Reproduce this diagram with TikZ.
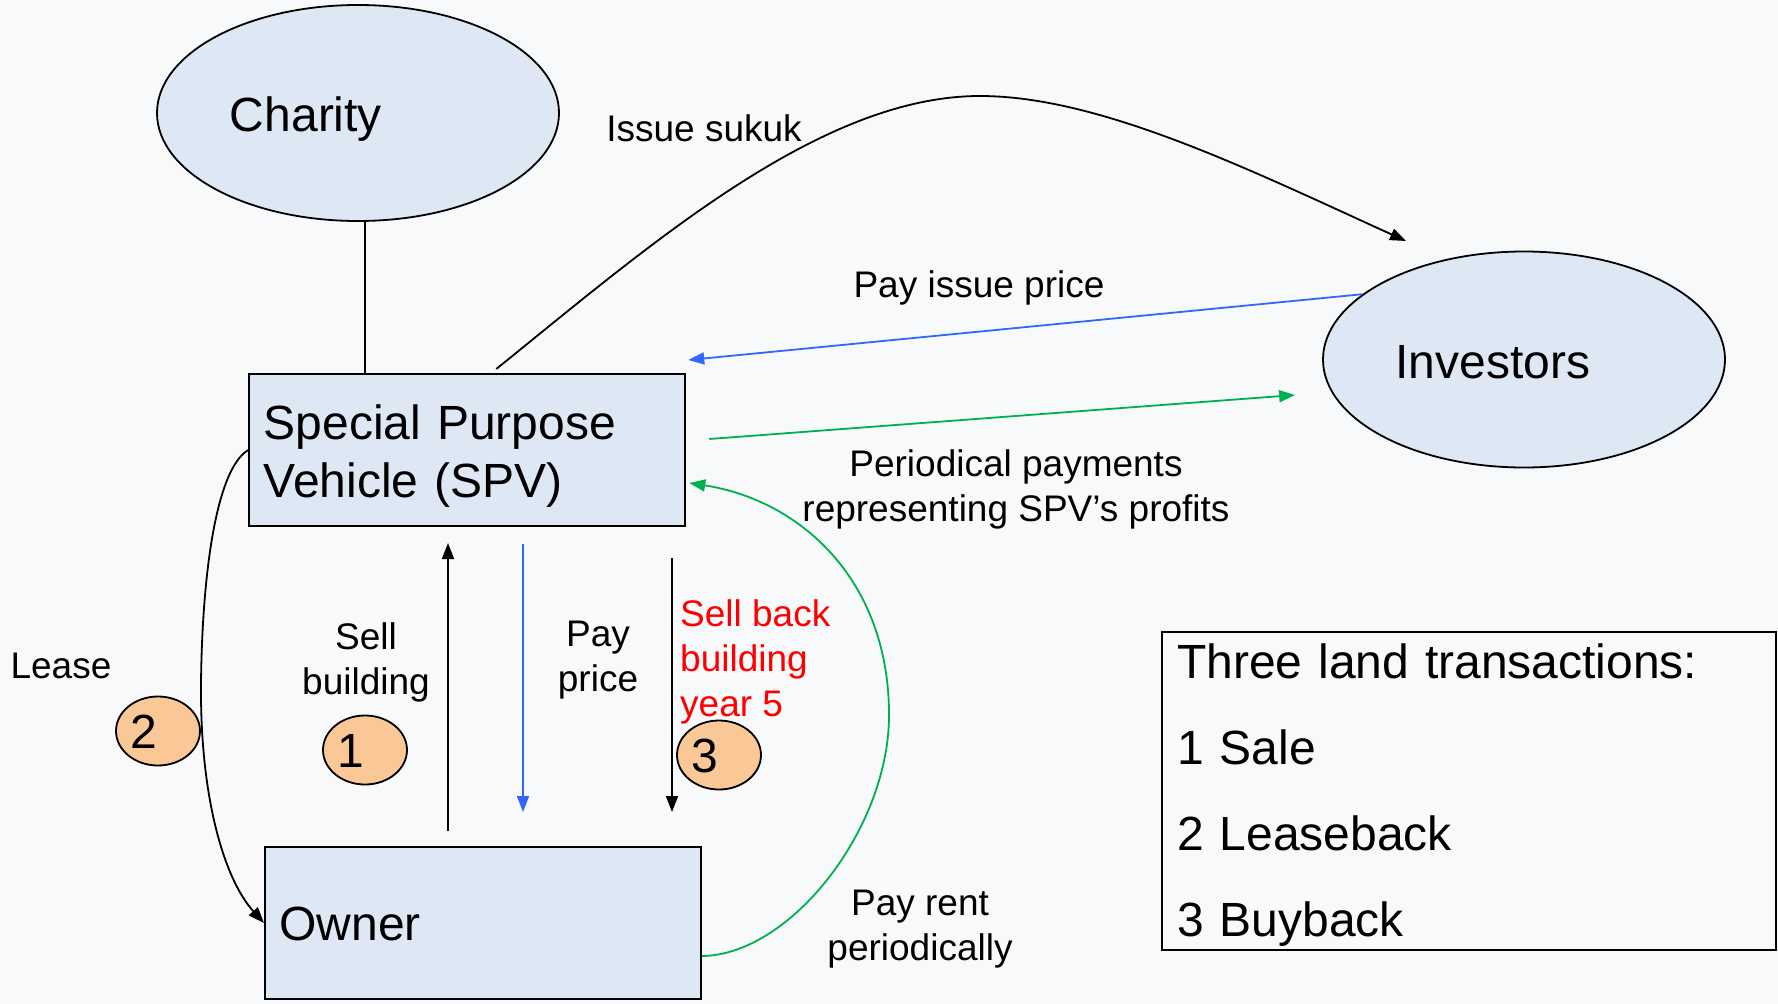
\documentclass[tikz,border=0pt]{standalone}
\usepackage{fontspec}
\setmainfont{Liberation Sans}
\usetikzlibrary{shapes.geometric,arrows.meta}
\definecolor{nodefill}{RGB}{222,232,245}
\definecolor{peach}{RGB}{250,200,150}
\definecolor{arrblue}{RGB}{51,102,255}
\definecolor{arrgreen}{RGB}{0,176,80}
\definecolor{bgcol}{RGB}{248,249,250}
\begin{document}
\begin{tikzpicture}[x=1pt,y=-1pt,
 bigtext/.style={font=\fontsize{48}{58}\selectfont},
 lbl/.style={font=\fontsize{37}{45}\selectfont, align=center, inner sep=0pt},
 ellnode/.style={ellipse, draw=black, line width=1.8pt, fill=nodefill, minimum width=402pt, minimum height=216pt, inner sep=0pt},
 boxnode/.style={rectangle, draw=black, line width=2pt, fill=nodefill, minimum width=436pt, minimum height=152pt, inner sep=0pt},
 boxtext/.style={text width=407pt, align=left, inner sep=0pt, font=\fontsize{48}{58}\selectfont},
 numnode/.style={ellipse, draw=black, line width=1.8pt, fill=peach, minimum width=84pt, minimum height=69pt, inner sep=0pt},
 numtext/.style={font=\fontsize{48}{50}\selectfont, xshift=-14pt, yshift=-1pt},
 conn/.style={line width=1.8pt, -{Triangle[length=16pt,width=12pt]}},
 plainline/.style={line width=1.8pt}
]
\useasboundingbox (0,0) rectangle (1778,1004);
\fill[bgcol] (0,0) rectangle (1778,1004);

% main nodes
\node[ellnode, label={[bigtext, xshift=-52pt, yshift=-6pt]center:Charity}] (charity) at (358,113) {};
\node[ellnode, label={[bigtext, xshift=-31pt, yshift=-3pt]center:Investors}] (investors) at (1524,359.5) {};
\node[boxnode, label={[boxtext, yshift=-6pt]center:Special Purpose\\Vehicle (SPV)}] (spv) at (467.25,450) {};
\node[boxnode, label={[boxtext, yshift=-1pt]center:Owner}] (owner) at (483,923) {};
\node[rectangle, draw=black, line width=2pt, minimum width=614pt, minimum height=318pt, inner sep=0pt,
  label={[text width=584pt, align=left, inner sep=0pt, font=\fontsize{48}{86}\selectfont, yshift=-4pt]center:Three land transactions:\\1 Sale\\2 Leaseback\\3 Buyback}] (legend) at (1469,791) {};

% number badges
\node[numnode, label={[numtext]center:1}] (n1) at (365,750) {};
\node[numnode, label={[numtext]center:2}] (n2) at (158,731) {};
\node[numnode, label={[numtext]center:3}] (n3) at (719,755) {};

% helper coordinates
\coordinate (chx) at (365,0);
\coordinate (sellx) at (448,0);
\coordinate (payx) at (523,0);
\coordinate (backx) at (672,0);
\coordinate (sukukstart) at ([shift={(29,-4)}]spv.north);
\coordinate (sukukend) at (1406,241);
\coordinate (issueend) at ([shift={(2,-13)}]spv.north east);
\coordinate (profstart) at ([shift={(23,-11)}]spv.east);
\coordinate (profend) at ([shift={(-27,35.5)}]investors.west);
\coordinate (rentstart) at ([shift={(0,33)}]owner.east);
\coordinate (rentend) at ([shift={(3,33)}]spv.east);

% connectors
\draw[plainline] (charity.south -| chx) -- (spv.north -| chx);
\draw[conn] (sukukstart) .. controls (650,245) and (820,96) .. (980,96)
  .. controls (1100,96) and (1250,170) .. (sukukend);
\draw[conn, arrblue] (investors.158) -- (issueend);
\draw[conn, arrgreen] (profstart) -- (profend);
\draw[conn] (spv.west) .. controls (215,470) and (202,580) .. (201,684)
  .. controls (200,800) and (225,880) .. (owner.west);
\draw[conn, shorten <=15pt, shorten >=16pt] (owner.north -| sellx) -- (spv.south -| sellx);
\draw[conn, arrblue, shorten <=17pt, shorten >=34pt] (spv.south -| payx) -- (owner.north -| payx);
\draw[conn, shorten <=31pt, shorten >=34pt] (spv.south -| backx) -- (owner.north -| backx);
\draw[conn, arrgreen] (rentstart) .. controls (790,955) and (888,830) .. (889,717)
  .. controls (890,580) and (800,500) .. (rentend);

% labels
\node[lbl] (lsukuk) at (704,128) {Issue sukuk};
\node[lbl] (lissue) at (979,288) {Pay issue price};
\node[lbl] (lprof) at (1016,489) {Periodical payments\\representing SPV’s profits};
\node[lbl] (lsell) at (366,662) {Sell\\building};
\node[lbl] (lpay) at (598,660) {Pay\\price};
\node[lbl, anchor=west, align=left, text=red] (lback) at (680,662) {Sell back\\building\\year 5};
\node[lbl] (llease) at (61,666) {Lease};
\node[lbl] (lrent) at (920,929) {Pay rent\\periodically};
\end{tikzpicture}
\end{document}
